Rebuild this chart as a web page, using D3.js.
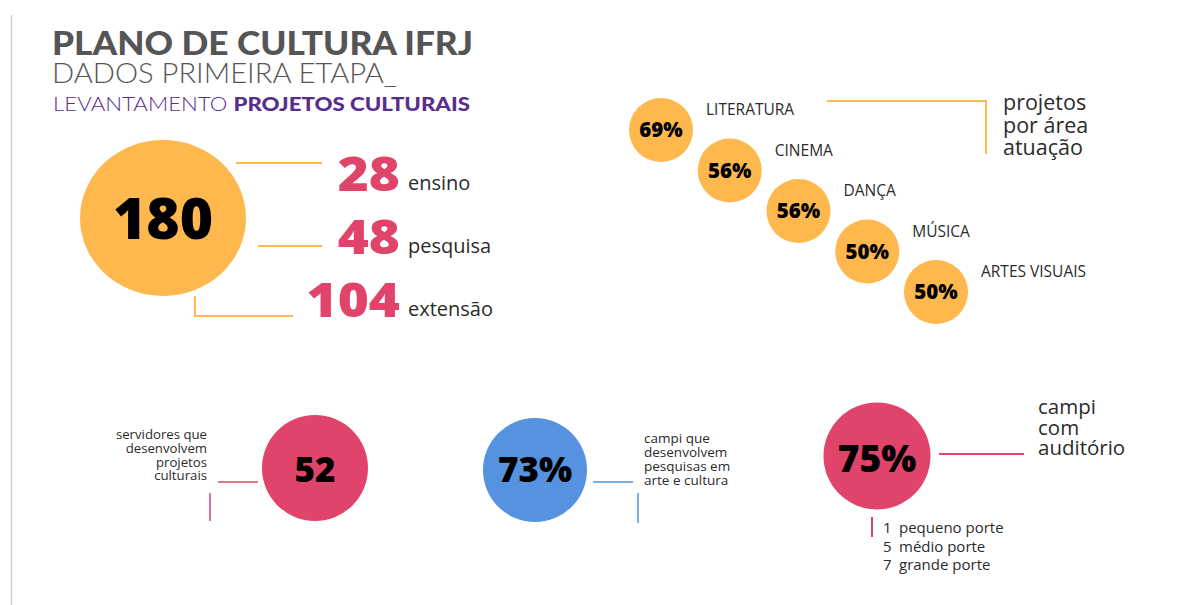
<!DOCTYPE html>
<html><head><meta charset="utf-8">
<script src="https://cdn.jsdelivr.net/npm/d3@7/dist/d3.min.js"></script>
<style>
html,body{margin:0;padding:0;background:#fff;}
svg{display:block;}
</style></head>
<body><svg id="c" width="1197" height="605"></svg>
<script>
// ---- data ----
const titleLines = ["PLANO DE CULTURA IFRJ", "DADOS PRIMEIRA ETAPA_"];
const subtitleLight = "LEVANTAMENTO ";
const subtitleBold = "PROJETOS CULTURAIS";
const totalProjects = 180;
const breakdownLabels = ["ensino", "pesquisa", "extensão"];
const breakdownValues = [28, 48, 104];
const areaLabels = ["LITERATURA", "CINEMA", "DANÇA", "MÚSICA", "ARTES VISUAIS"];
const areaValues = [69, 56, 56, 50, 50];
const areaTitle = ["projetos", "por área", "atuação"];
const servidoresValue = 52;
const servidoresText = ["servidores que", "desenvolvem", "projetos", "culturais"];
const pesquisaPct = 73;
const pesquisaText = ["campi que", "desenvolvem", "pesquisas em", "arte e cultura"];
const auditorioPct = 75;
const auditorioText = ["campi", "com", "auditório"];
const porteCounts = [1, 5, 7];
const porteLabels = ["pequeno porte", "médio porte", "grande porte"];

// ---- style ----
const ORANGE = "#FFB84E", PINK = "#E1446A", BLUE = "#5592E0", GREY = "#555555", PURPLE = "#5A2D8C", TXT = "#2b2b2b";
const BODY = "'Open Sans', 'Noto Sans', sans-serif";
const HEAD = "Lato, 'Open Sans', sans-serif";

const svg = d3.select("#c");

// left rule
svg.append("line").attr("x1", 11.5).attr("x2", 11.5).attr("y1", 15).attr("y2", 605)
  .attr("stroke", "#d4d4d4").attr("stroke-width", 1.5);

// ---- title ----
svg.append("text").attr("x", 52).attr("y", 55).attr("font-family", HEAD).attr("font-weight", 900)
  .attr("font-size", 32).attr("fill", GREY).attr("textLength", 421).attr("lengthAdjust", "spacingAndGlyphs").text(titleLines[0]);
svg.append("text").attr("x", 52).attr("y", 83).attr("font-family", HEAD).attr("font-weight", 300)
  .attr("font-size", 27.5).attr("fill", GREY).attr("textLength", 345).attr("lengthAdjust", "spacingAndGlyphs").text(titleLines[1]);
const sub = svg.append("text").attr("x", 53).attr("y", 111).attr("font-family", HEAD)
  .attr("font-size", 19.5).attr("fill", PURPLE).attr("textLength", 417).attr("lengthAdjust", "spacingAndGlyphs");
sub.append("tspan").attr("font-weight", 300).text(subtitleLight);
sub.append("tspan").attr("font-weight", 900).text(subtitleBold);

// ---- total + breakdown ----
const big = {cx: 163, cy: 218, rx: 83, ry: 78};
svg.append("ellipse").attr("cx", big.cx).attr("cy", big.cy).attr("rx", big.rx).attr("ry", big.ry).attr("fill", ORANGE);
svg.append("text").attr("x", big.cx).attr("y", 239).attr("text-anchor", "middle")
  .attr("font-family", BODY).attr("font-weight", 800).attr("font-size", 57).attr("fill", "#000")
  .text(totalProjects);

const yRow = d3.scalePoint().domain(breakdownLabels).range([191, 317]);
const numX = 400;
breakdownLabels.forEach((lab, i) => {
  const y = yRow(lab);
  const t = svg.append("text").attr("x", numX).attr("y", y).attr("text-anchor", "end")
    .attr("font-family", BODY).attr("font-weight", 800).attr("font-size", 47).attr("fill", PINK)
    .text(breakdownValues[i]);
  const w = t.node().getComputedTextLength();
  t.attr("textLength", w * 1.13).attr("lengthAdjust", "spacingAndGlyphs");
  svg.append("text").attr("x", numX + 8).attr("y", y - 1)
    .attr("font-family", BODY).attr("font-size", 20).attr("fill", TXT).text(lab);
});
// connectors
const conn = svg.append("g").attr("stroke", ORANGE).attr("stroke-width", 2).attr("fill", "none");
conn.append("line").attr("x1", 236).attr("x2", 322).attr("y1", yRow(breakdownLabels[0]) - 28).attr("y2", yRow(breakdownLabels[0]) - 28);
conn.append("line").attr("x1", 258).attr("x2", 322).attr("y1", yRow(breakdownLabels[1]) - 8).attr("y2", yRow(breakdownLabels[1]) - 8);
conn.append("path").attr("d", `M195,${big.cy + big.ry}V${yRow(breakdownLabels[2]) - 1}H293`);

// ---- areas ----
const ax = d3.scalePoint().domain(areaLabels).range([661, 936]);
const ay = d3.scalePoint().domain(areaLabels).range([130, 292]);
const r = 32;
const ag = svg.append("g");
areaLabels.forEach((lab, i) => {
  ag.append("circle").attr("cx", ax(lab)).attr("cy", ay(lab)).attr("r", r).attr("fill", ORANGE);
  ag.append("text").attr("x", ax(lab)).attr("y", ay(lab) + 7).attr("text-anchor", "middle")
    .attr("font-family", BODY).attr("font-weight", 800).attr("font-size", 20.5).attr("fill", "#000")
    .text(areaValues[i] + "%");
  ag.append("text").attr("x", ax(lab) + 45).attr("y", ay(lab) - 15)
    .attr("font-family", BODY).attr("font-size", 15.5).attr("fill", TXT).text(lab);
});
svg.append("path").attr("d", "M827,101H986V154").attr("stroke", ORANGE).attr("stroke-width", 2).attr("fill", "none");
const at = svg.append("text").attr("font-family", BODY).attr("font-size", 21.5).attr("fill", TXT);
areaTitle.forEach((t, i) => at.append("tspan").attr("x", 1003).attr("y", 110 + i * 22.5).text(t));

// ---- bottom stats ----
function multiline(x, y0, lines, lh, anchor, size) {
  const t = svg.append("text").attr("font-family", BODY).attr("font-size", size).attr("fill", TXT)
    .attr("text-anchor", anchor);
  lines.forEach((l, i) => t.append("tspan").attr("x", x).attr("y", y0 + i * lh).text(l));
  return t;
}
// servidores
svg.append("circle").attr("cx", 315).attr("cy", 468).attr("r", 53).attr("fill", PINK);
svg.append("text").attr("x", 315).attr("y", 482).attr("text-anchor", "middle")
  .attr("font-family", BODY).attr("font-weight", 800).attr("font-size", 35).attr("fill", "#000").text(servidoresValue);
multiline(207, 439, servidoresText, 13.8, "end", 13.2);
svg.append("path").attr("d", "M218,482H258").attr("stroke", PINK).attr("stroke-width", 1.5);
svg.append("path").attr("d", "M210,493V521").attr("stroke", PINK).attr("stroke-width", 1.5);

// pesquisa
svg.append("circle").attr("cx", 535).attr("cy", 470).attr("r", 52).attr("fill", BLUE);
svg.append("text").attr("x", 535).attr("y", 482).attr("text-anchor", "middle")
  .attr("font-family", BODY).attr("font-weight", 800).attr("font-size", 35).attr("fill", "#000").text(pesquisaPct + "%");
multiline(644, 443, pesquisaText, 14, "start", 13.5);
svg.append("path").attr("d", "M593,482H633").attr("stroke", BLUE).attr("stroke-width", 1.5);
svg.append("path").attr("d", "M638,493V523").attr("stroke", BLUE).attr("stroke-width", 1.5);

// auditorio
svg.append("circle").attr("cx", 877).attr("cy", 456).attr("r", 53.5).attr("fill", PINK);
svg.append("text").attr("x", 877).attr("y", 472).attr("text-anchor", "middle")
  .attr("font-family", BODY).attr("font-weight", 800).attr("font-size", 37).attr("fill", "#000").text(auditorioPct + "%");
multiline(1038, 414, auditorioText, 20.5, "start", 20.5);
svg.append("path").attr("d", "M939,454H1024").attr("stroke", PINK).attr("stroke-width", 2);
svg.append("path").attr("d", "M872,517V537").attr("stroke", PINK).attr("stroke-width", 2);
const pt = svg.append("text").attr("font-family", BODY).attr("font-size", 15).attr("fill", TXT);
porteCounts.forEach((c, i) => {
  pt.append("tspan").attr("x", 883).attr("y", 533 + i * 18.7).text(c);
  pt.append("tspan").attr("x", 899).text(porteLabels[i]);
});
</script></body></html>
